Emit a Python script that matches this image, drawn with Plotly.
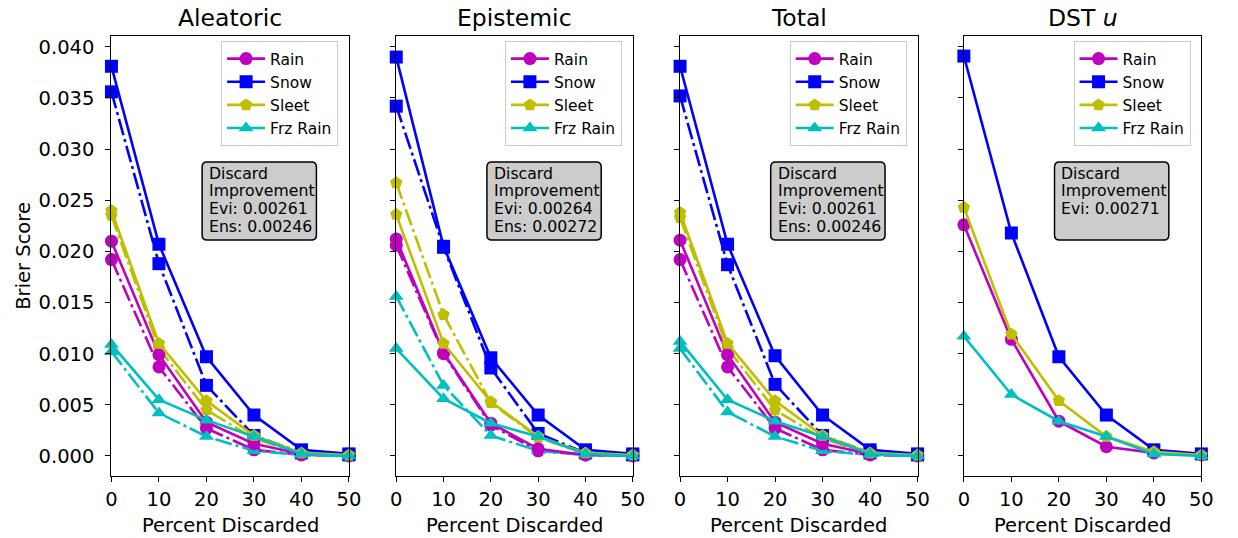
import plotly.graph_objects as go

W, H = 1238, 538
pct = [0, 10, 20, 30, 40, 50]
classes = ["Rain", "Snow", "Sleet", "Frz Rain"]
colors = ["#bf00bf", "#0000ff", "#bfbf00", "#00bfbf"]
symbols = ["circle", "square", "pentagon", "triangle-up"]
titles = ["Aleatoric", "Epistemic", "Total", "DST <i>u</i>"]

# Evidential (solid) values per panel
ale_evi_rain = [0.0210, 0.0099, 0.0033, 0.0012, 0.0002, 0.0002]
ale_evi_snow = [0.0381, 0.0207, 0.0097, 0.0040, 0.0006, 0.0002]
ale_evi_sleet = [0.0240, 0.0110, 0.0054, 0.0020, 0.0003, 0.0001]
ale_evi_frz = [0.0109, 0.0055, 0.0035, 0.0019, 0.0002, 0.0000]
# Ensemble (dash-dot)
ale_ens_rain = [0.0192, 0.0087, 0.0027, 0.0006, 0.0001, 0.0000]
ale_ens_snow = [0.0356, 0.0188, 0.0069, 0.0020, 0.0003, 0.0001]
ale_ens_sleet = [0.0235, 0.0105, 0.0045, 0.0017, 0.0002, 0.0000]
ale_ens_frz = [0.0102, 0.0042, 0.0019, 0.0005, 0.0001, 0.0000]

epi_evi_rain = [0.0212, 0.0101, 0.0032, 0.0007, 0.0001, 0.0001]
epi_evi_snow = [0.0390, 0.0205, 0.0096, 0.0040, 0.0006, 0.0002]
epi_evi_sleet = [0.0236, 0.0110, 0.0053, 0.0019, 0.0003, 0.0001]
epi_evi_frz = [0.0105, 0.0056, 0.0032, 0.0019, 0.0002, 0.0000]
epi_ens_rain = [0.0206, 0.0100, 0.0030, 0.0005, 0.0001, 0.0000]
epi_ens_snow = [0.0342, 0.0204, 0.0086, 0.0022, 0.0003, 0.0001]
epi_ens_sleet = [0.0267, 0.0138, 0.0052, 0.0018, 0.0002, 0.0000]
epi_ens_frz = [0.0156, 0.0069, 0.0020, 0.0005, 0.0001, 0.0000]

tot_evi_rain = [0.0211, 0.0099, 0.0033, 0.0012, 0.0002, 0.0002]
tot_evi_snow = [0.0381, 0.0207, 0.0098, 0.0040, 0.0006, 0.0002]
tot_evi_sleet = [0.0238, 0.0110, 0.0054, 0.0020, 0.0003, 0.0001]
tot_evi_frz = [0.0112, 0.0055, 0.0034, 0.0019, 0.0002, 0.0000]
tot_ens_rain = [0.0192, 0.0087, 0.0027, 0.0006, 0.0001, 0.0000]
tot_ens_snow = [0.0352, 0.0187, 0.0070, 0.0020, 0.0003, 0.0001]
tot_ens_sleet = [0.0233, 0.0105, 0.0045, 0.0017, 0.0002, 0.0000]
tot_ens_frz = [0.0105, 0.0043, 0.0019, 0.0005, 0.0001, 0.0000]

dst_evi_rain = [0.0226, 0.0114, 0.0034, 0.0009, 0.0003, 0.0001]
dst_evi_snow = [0.0391, 0.0218, 0.0097, 0.0040, 0.0006, 0.0002]
dst_evi_sleet = [0.0243, 0.0119, 0.0054, 0.0019, 0.0004, 0.0001]
dst_evi_frz = [0.0117, 0.0060, 0.0034, 0.0019, 0.0002, 0.0000]

box_lines = [
    ["Discard", "Improvement", "Evi: 0.00261", "Ens: 0.00246"],
    ["Discard", "Improvement", "Evi: 0.00264", "Ens: 0.00272"],
    ["Discard", "Improvement", "Evi: 0.00261", "Ens: 0.00246"],
    ["Discard", "Improvement", "Evi: 0.00271"],
]

y_ticks = [0.000, 0.005, 0.010, 0.015, 0.020, 0.025, 0.030, 0.035, 0.040]
x_ticks = [0, 10, 20, 30, 40, 50]

panels_evi = [
    [ale_evi_rain, ale_evi_snow, ale_evi_sleet, ale_evi_frz],
    [epi_evi_rain, epi_evi_snow, epi_evi_sleet, epi_evi_frz],
    [tot_evi_rain, tot_evi_snow, tot_evi_sleet, tot_evi_frz],
    [dst_evi_rain, dst_evi_snow, dst_evi_sleet, dst_evi_frz],
]
panels_ens = [
    [ale_ens_rain, ale_ens_snow, ale_ens_sleet, ale_ens_frz],
    [epi_ens_rain, epi_ens_snow, epi_ens_sleet, epi_ens_frz],
    [tot_ens_rain, tot_ens_snow, tot_ens_sleet, tot_ens_frz],
    None,
]

FONT = "DejaVu Sans"
# pixel geometry
x_px = [(107, 348), (396, 636), (684, 925), (972, 1213)]
y_top, y_bot = 36, 476
ydom = [1 - y_bot / H, 1 - y_top / H]
dash_dot = "17px,4px,3px,4px"


def px(x):
    return x / W


def py(y):
    return 1 - y / H


def rounded_rect(x0, y0, x1, y1, r):
    a, b, c, d = px(x0), px(x1), py(y0), py(y1)
    rx, ry = r / W, r / H
    return (f"M {a+rx},{c} L {b-rx},{c} Q {b},{c} {b},{c-ry} "
            f"L {b},{d+ry} Q {b},{d} {b-rx},{d} L {a+rx},{d} "
            f"Q {a},{d} {a},{d+ry} L {a},{c-ry} Q {a},{c} {a+rx},{c} Z")


fig = go.Figure()
layout = dict(
    width=W, height=H, margin=dict(l=0, r=0, t=0, b=0),
    paper_bgcolor="white", plot_bgcolor="white",
    font=dict(family=FONT, color="black", size=19.5),
    annotations=[], shapes=[], showlegend=True,
)

for p in range(4):
    sfx = "" if p == 0 else str(p + 1)
    xa, ya = "x" + sfx, "y" + sfx
    leg = "legend" + sfx
    if panels_ens[p] is not None:
        for c in range(4):
            fig.add_trace(go.Scatter(
                x=pct, y=panels_ens[p][c], xaxis=xa, yaxis=ya, mode="lines+markers",
                line=dict(color=colors[c], width=2.6, dash=dash_dot),
                marker=dict(symbol=symbols[c], size=13, color=colors[c], line=dict(width=0)),
                showlegend=False, legend=leg, cliponaxis=False,
            ))
    for c in range(4):
        fig.add_trace(go.Scatter(
            x=pct, y=panels_evi[p][c], xaxis=xa, yaxis=ya, mode="lines+markers",
            name=classes[c],
            line=dict(color=colors[c], width=2.6),
            marker=dict(symbol=symbols[c], size=13, color=colors[c], line=dict(width=0)),
            showlegend=True, legend=leg, cliponaxis=False,
        ))
    x0, x1 = x_px[p]
    layout["xaxis" + sfx] = dict(
        domain=[px(x0), px(x1)], anchor=ya, range=[0, 50],
        tickvals=x_ticks, ticktext=[str(v) for v in x_ticks],
        ticks="outside", ticklen=5, tickwidth=1.2, tickcolor="black",
        showline=True, linecolor="black", linewidth=1.2, mirror=True,
        showgrid=False, zeroline=False, tickfont=dict(size=19.5, family=FONT),
        fixedrange=True,
    )
    yax = dict(
        domain=ydom, anchor=xa, range=[-0.00196, 0.04106],
        tickvals=y_ticks, ticktext=[f"{v:.3f}" for v in y_ticks],
        ticks="outside", ticklen=5, tickwidth=1.2, tickcolor="black",
        showline=True, linecolor="black", linewidth=1.2, mirror=True,
        showgrid=False, zeroline=False, tickfont=dict(size=19.5, family=FONT),
        showticklabels=(p == 0), fixedrange=True, ticklabelstandoff=7,
    )
    if p > 0:
        yax["matches"] = "y"
    layout["yaxis" + sfx] = yax
    layout[leg] = dict(
        x=px(x1 - 11), xanchor="right", y=py(41), yanchor="top",
        xref="paper", yref="paper",
        bgcolor="rgba(255,255,255,0.8)", bordercolor="#cccccc", borderwidth=1,
        font=dict(size=15.5, family=FONT), itemwidth=38, tracegroupgap=0,
    )
    cx = (x0 + x1) / 2
    layout["annotations"].append(dict(
        text=titles[p], x=px(cx), y=py(18), xref="paper", yref="paper",
        xanchor="center", yanchor="middle", showarrow=False,
        font=dict(size=23.5, family=FONT),
    ))
    layout["annotations"].append(dict(
        text="Percent Discarded", x=px(cx), y=py(525), xref="paper", yref="paper",
        xanchor="center", yanchor="middle", showarrow=False,
        font=dict(size=19.5, family=FONT),
    ))
    bx = x0 + 92
    layout["shapes"].append(dict(
        type="path", path=rounded_rect(bx, 162, bx + 116, 240, 5),
        xref="paper", yref="paper", fillcolor="#cccccc",
        line=dict(color="black", width=1.5), layer="above",
    ))
    for i, t in enumerate(box_lines[p]):
        layout["annotations"].append(dict(
            text=t, x=px(bx + 5), y=py(173 + 17.8 * i), xref="paper", yref="paper",
            xanchor="left", yanchor="middle", align="left", showarrow=False,
            font=dict(size=15.7, family=FONT),
        ))

layout["annotations"].append(dict(
    text="Brier Score", x=px(17), y=py(256), xref="paper", yref="paper",
    xanchor="center", yanchor="middle", showarrow=False, textangle=-90,
    font=dict(size=19.5, family=FONT),
))

fig.update_layout(**layout)
fig.write_html("out.html")
